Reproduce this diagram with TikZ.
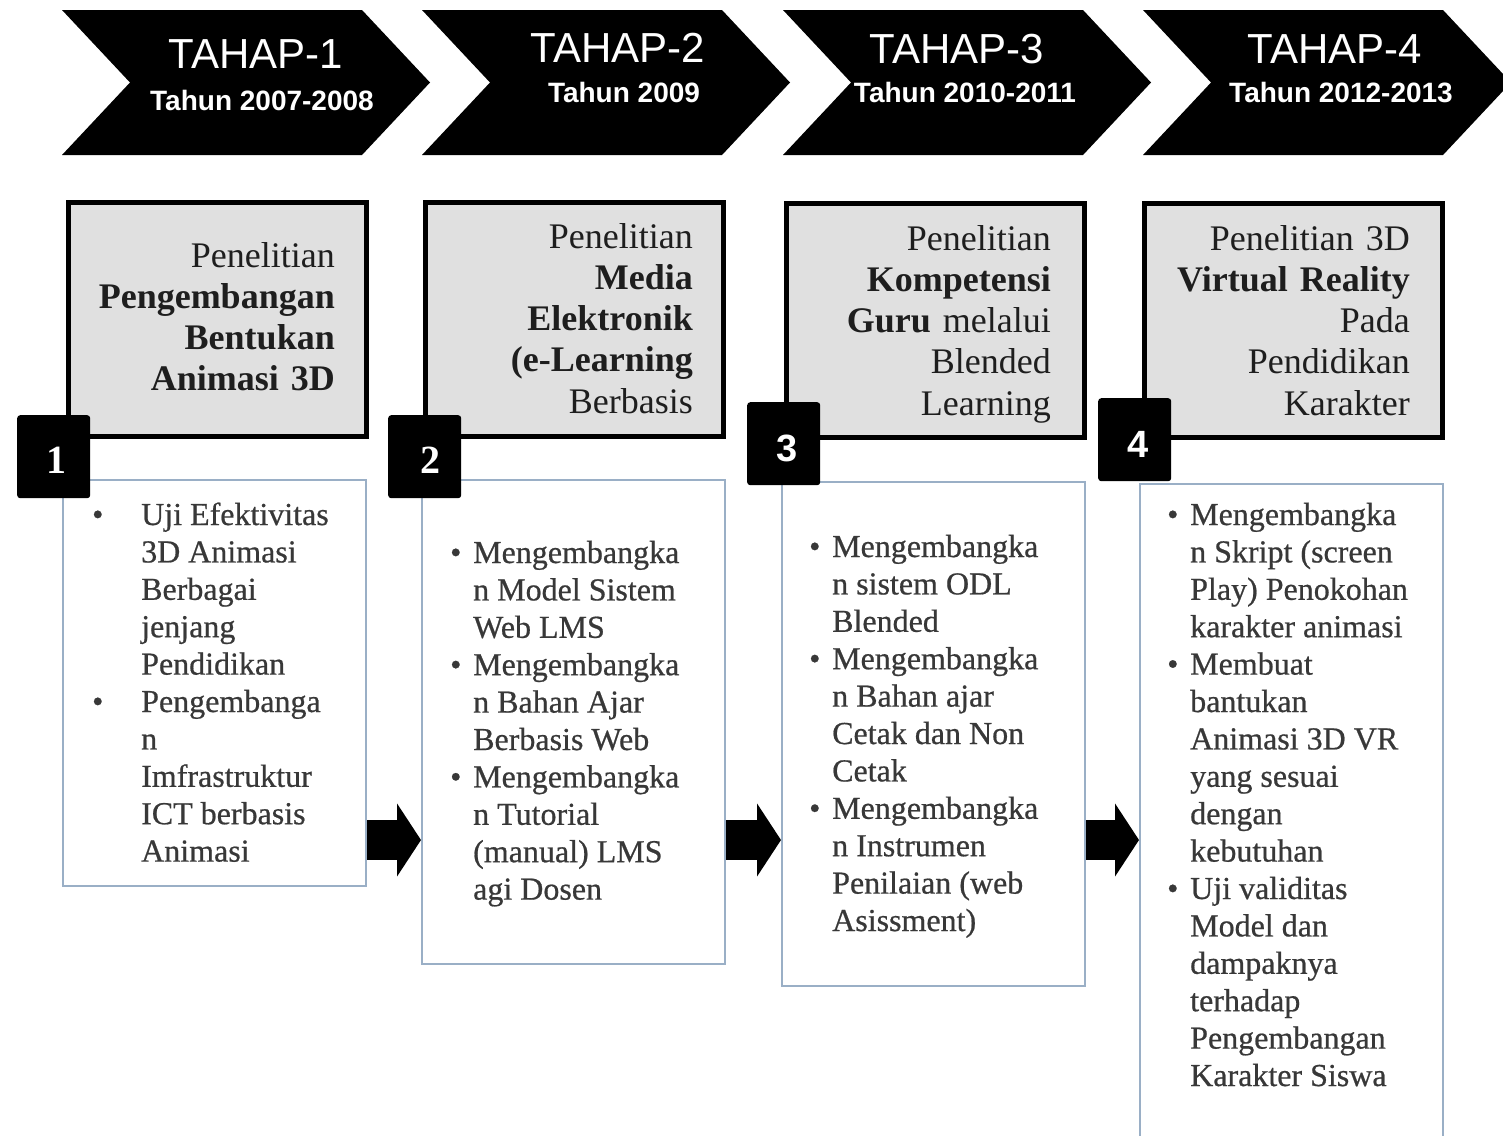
\documentclass[tikz,border=0pt]{standalone}
\usepackage{fontspec}
\setmainfont{Liberation Serif}
\setsansfont{Liberation Sans}
\newfontfamily\bodyfont[FakeBold=0.6]{Liberation Serif}
\usetikzlibrary{arrows.meta}
\definecolor{boxgray}{HTML}{E0E0E0}
\definecolor{bluegray}{HTML}{9AAFC6}
\definecolor{bodytext}{HTML}{383838}
\definecolor{headtext}{HTML}{1E1E1E}
\newcommand{\bul}[1]{\makebox[#1pt][l]{\textbullet}}
\tikzset{
  chev/.style={fill=black},
  tahap/.style={text=white, font=\sffamily\fontsize{42}{42}\selectfont, inner sep=0pt, anchor=base},
  tahun/.style={text=white, font=\sffamily\bfseries\fontsize{28}{28}\selectfont, inner sep=0pt, anchor=base},
  graybox/.style={draw=black, line width=5pt, fill=boxgray, inner sep=0pt, anchor=north west, minimum width=298pt, minimum height=234pt},
  graytext/.style={font=\fontsize{36}{41.3}\selectfont, text=headtext, align=right, text width=320pt, inner sep=0pt, anchor=base east},
  numbox/.style={fill=black, rounded corners=3pt, inner sep=0pt, anchor=north west, minimum width=73pt, minimum height=83pt},
  numserif/.style={text=white, font=\bfseries\fontsize{40}{40}\selectfont, inner sep=0pt, anchor=base},
  numsans/.style={text=white, font=\sffamily\bfseries\fontsize{38}{38}\selectfont, inner sep=0pt, anchor=base},
  listbox/.style={draw=bluegray, line width=2pt, fill=white, inner sep=0pt, anchor=north west, minimum width=303pt},
  listtext/.style={font=\bodyfont\fontsize{32}{37.4}\selectfont, text=bodytext, inner sep=0pt, anchor=base west},
  blockarrow/.style={line width=40pt, -{Triangle[length=24pt,width=72pt]}},
}
\begin{document}
\begin{tikzpicture}[x=1pt,y=-1pt]
\clip (0,0) rectangle (1503,1135);
\fill[white] (0,0) rectangle (1503,1135);

% chevrons
\foreach \L in {62,422,783,1143}{
  \fill[chev] (\L,10) -- (\L+300,10) -- (\L+368,82.5) -- (\L+300,155) -- (\L,155) -- (\L+68,82.5) -- cycle;
}
\node[tahap] (t1) at (256,68) {TAHAP-1};
\node[tahun] (y1) at (262,110) {Tahun 2007-2008};
\node[tahap] (t2) at (618,62) {TAHAP-2};
\node[tahun] (y2) at (624,102) {Tahun 2009};
\node[tahap] (t3) at (957,63) {TAHAP-3};
\node[tahun] (y3) at (965,102) {Tahun 2010-2011};
\node[tahap] (t4) at (1335,63) {TAHAP-4};
\node[tahun] (y4) at (1341,102) {Tahun 2012-2013};

% list boxes
\node[listbox, minimum height=406pt] (l1) at (62,479) {};
\node[listbox, minimum height=484pt] (l2) at (421,479) {};
\node[listbox, minimum height=504pt] (l3) at (781,481) {};
\node[listbox, minimum height=700pt] (l4) at (1139,483) {};

% gray boxes
\node[graybox] (g1) at (65.5,199.5) {};
\node[graybox] (g2) at (422.5,199.5) {};
\node[graybox] (g3) at (783.5,200.5) {};
\node[graybox] (g4) at (1141.5,200.5) {};

\node[graytext] (gt1) at (335,267) {Penelitian\\ \textbf{Pengembangan}\\ \textbf{Bentukan}\\ \textbf{Animasi 3D}};
\node[graytext] (gt2) at (693,248) {Penelitian\\ \textbf{Media}\\ \textbf{Elektronik}\\ \textbf{(e-Learning}\\ Berbasis};
\node[graytext] (gt3) at (1051,250) {Penelitian\\ \textbf{Kompetensi}\\ \textbf{Guru} melalui\\ Blended\\ Learning};
\node[graytext] (gt4) at (1410,250) {Penelitian 3D\\ \textbf{Virtual Reality}\\ Pada\\ Pendidikan\\ Karakter};

% number squares
\node[numbox] (n1) at (17,415) {};
\node[numbox] (n2) at (388,415) {};
\node[numbox] (n3) at (747,402) {};
\node[numbox] (n4) at (1098,398) {};
\node[numserif] (d1) at (56,473) {1};
\node[numserif] (d2) at (430,473) {2};
\node[numsans] (d3) at (787,461) {3};
\node[numsans] (d4) at (1138,457) {4};

% list texts
\node[listtext] (lt1) at (92,525) {\begin{tabular}[t]{@{}l@{}l@{}}
\bul{49}&Uji Efektivitas\\ &3D Animasi\\ &Berbagai\\ &jenjang\\ &Pendidikan\\
\bul{49}&Pengembanga\\ &n\\ &Imfrastruktur\\ &ICT berbasis\\ &Animasi
\end{tabular}};
\node[listtext] (lt2) at (450,563) {\begin{tabular}[t]{@{}l@{}l@{}}
\bul{23}&Mengembangka\\ &n Model Sistem\\ &Web LMS\\
\bul{23}&Mengembangka\\ &n Bahan Ajar\\ &Berbasis Web\\
\bul{23}&Mengembangka\\ &n Tutorial\\ &(manual) LMS\\ &agi Dosen
\end{tabular}};
\node[listtext] (lt3) at (809,557) {\begin{tabular}[t]{@{}l@{}l@{}}
\bul{23}&Mengembangka\\ &n sistem ODL\\ &Blended\\
\bul{23}&Mengembangka\\ &n Bahan ajar\\ &Cetak dan Non\\ &Cetak\\
\bul{23}&Mengembangka\\ &n Instrumen\\ &Penilaian (web\\ &Asissment)
\end{tabular}};
\node[listtext] (lt4) at (1167,525) {\begin{tabular}[t]{@{}l@{}l@{}}
\bul{23}&Mengembangka\\ &n Skript (screen\\ &Play) Penokohan\\ &karakter animasi\\
\bul{23}&Membuat\\ &bantukan\\ &Animasi 3D VR\\ &yang sesuai\\ &dengan\\ &kebutuhan\\
\bul{23}&Uji validitas\\ &Model dan\\ &dampaknya\\ &terhadap\\ &Pengembangan\\ &Karakter Siswa
\end{tabular}};

% block arrows
\coordinate (ay) at (0,840);
\draw[blockarrow] (l1.east |- ay) -- (l2.west |- ay);
\draw[blockarrow] (l2.east |- ay) -- (l3.west |- ay);
\draw[blockarrow] (l3.east |- ay) -- (l4.west |- ay);
\end{tikzpicture}
\end{document}
